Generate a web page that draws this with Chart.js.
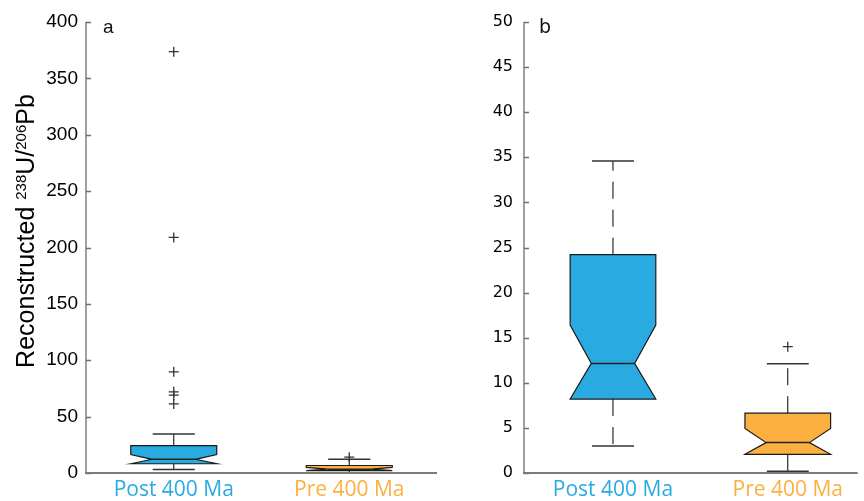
<!DOCTYPE html>
<html>
<head>
<meta charset="utf-8">
<script src="https://cdn.jsdelivr.net/npm/chart.js@4.4.1/dist/chart.umd.min.js"></script>
<style>
  html, body { margin: 0; padding: 0; background: #fff; }
  .panel { position: absolute; top: 0; height: 501px; }
  #wrapA { left: 0; width: 450px; }
  #wrapB { left: 450px; width: 414px; }
</style>
</head>
<body>
<div class="panel" id="wrapA"><canvas id="chartA"></canvas></div>
<div class="panel" id="wrapB"><canvas id="chartB"></canvas></div>
<script>
// categories and box statistics (same data in both panels, b is a zoom)
const categories = ['Post 400 Ma', 'Pre 400 Ma'];
const catColors = ['#29abe2', '#fbb040'];
const whiskerLow = [3.0, 0.2];
const q1 = [8.2, 2.07];
const notchLow = [8.2, 2.07];
const median = [12.15, 3.37];
const notchHigh = [16.4, 4.93];
const q3 = [24.2, 6.63];
const whiskerHigh = [34.6, 12.1];
const outliersPost = [373.7, 208.9, 89.7, 72, 69, 61.3];
const outliersPre = [14.0];

const ticksA = [0, 50, 100, 150, 200, 250, 300, 350, 400];
const ticksB = [0, 5, 10, 15, 20, 25, 30, 35, 40, 45, 50];

const BOX_HALF = 0.245;
const NOTCH_HALF = 0.124;
const CAP_HALF = 0.12;

// notched boxes + axes drawn with the chart's own scales
const boxPlugin = {
  id: 'boxes',
  beforeDatasetsDraw(chart, args, opts) {
    const ctx = chart.ctx;
    const xs = chart.scales.x, ys = chart.scales.y;
    const a = chart.chartArea;
    ctx.save();
    ctx.beginPath();
    ctx.rect(a.left, a.top - 1, a.right - a.left, a.bottom - a.top + 1);
    ctx.clip();
    categories.forEach((c, i) => {
      const xc = i + 1;
      const X = v => xs.getPixelForValue(v);
      const Y = v => ys.getPixelForValue(v);
      // whiskers (dashed)
      ctx.strokeStyle = '#000';
      ctx.lineWidth = 1;
      ctx.setLineDash([17, 11]);
      ctx.beginPath();
      ctx.moveTo(X(xc), Y(q3[i]));
      ctx.lineTo(X(xc), Y(whiskerHigh[i]));
      ctx.moveTo(X(xc), Y(q1[i]));
      ctx.lineTo(X(xc), Y(whiskerLow[i]));
      ctx.stroke();
      ctx.setLineDash([]);
      // caps
      ctx.strokeStyle = '#333';
      ctx.lineWidth = 1.5;
      ctx.beginPath();
      ctx.moveTo(X(xc - CAP_HALF), Y(whiskerHigh[i]));
      ctx.lineTo(X(xc + CAP_HALF), Y(whiskerHigh[i]));
      ctx.moveTo(X(xc - CAP_HALF), Y(whiskerLow[i]));
      ctx.lineTo(X(xc + CAP_HALF), Y(whiskerLow[i]));
      ctx.stroke();
      // notched box
      ctx.beginPath();
      ctx.moveTo(X(xc - BOX_HALF), Y(q1[i]));
      ctx.lineTo(X(xc - BOX_HALF), Y(notchLow[i]));
      ctx.lineTo(X(xc - NOTCH_HALF), Y(median[i]));
      ctx.lineTo(X(xc - BOX_HALF), Y(notchHigh[i]));
      ctx.lineTo(X(xc - BOX_HALF), Y(q3[i]));
      ctx.lineTo(X(xc + BOX_HALF), Y(q3[i]));
      ctx.lineTo(X(xc + BOX_HALF), Y(notchHigh[i]));
      ctx.lineTo(X(xc + NOTCH_HALF), Y(median[i]));
      ctx.lineTo(X(xc + BOX_HALF), Y(notchLow[i]));
      ctx.lineTo(X(xc + BOX_HALF), Y(q1[i]));
      ctx.closePath();
      ctx.fillStyle = catColors[i];
      ctx.fill();
      ctx.strokeStyle = '#1a1a1a';
      ctx.lineWidth = 1.2;
      ctx.stroke();
      // median
      ctx.beginPath();
      ctx.moveTo(X(xc - NOTCH_HALF), Y(median[i]));
      ctx.lineTo(X(xc + NOTCH_HALF), Y(median[i]));
      ctx.strokeStyle = '#222';
      ctx.lineWidth = 1.5;
      ctx.stroke();
    });
    ctx.restore();
  },
  afterDraw(chart, args, opts) {
    const ctx = chart.ctx;
    const a = chart.chartArea;
    const ys = chart.scales.y;
    ctx.save();
    // y axis line + inward ticks
    ctx.strokeStyle = '#6e6e6e';
    ctx.lineWidth = 1.3;
    ctx.beginPath();
    ctx.moveTo(a.left, a.top);
    ctx.lineTo(a.left, a.bottom);
    ys.ticks.forEach(t => {
      const y = Math.round(ys.getPixelForValue(t.value)) + 0.5;
      ctx.moveTo(a.left, y);
      ctx.lineTo(a.left + 5, y);
    });
    ctx.stroke();
    // x axis line
    ctx.strokeStyle = '#7a7a7a';
    ctx.lineWidth = 2.2;
    ctx.beginPath();
    ctx.moveTo(a.left - 1, a.bottom);
    ctx.lineTo(a.right, a.bottom);
    ctx.stroke();
    // panel letter
    ctx.fillStyle = '#111';
    ctx.font = opts.letterFont;
    ctx.textBaseline = 'alphabetic';
    ctx.fillText(opts.letter, a.left + opts.letterDx, a.top + 11);
    // y title with superscripts
    if (opts.title) {
      ctx.translate(opts.titleX, opts.titleY);
      ctx.rotate(-Math.PI / 2);
      const parts = [
        ['Reconstructed ', false], ['238', true], ['U/', false], ['206', true], ['Pb', false]
      ];
      const big = '25px "Liberation Sans", Arial, sans-serif';
      const small = '15px "Liberation Sans", Arial, sans-serif';
      let total = 0;
      parts.forEach(p => { ctx.font = p[1] ? small : big; total += ctx.measureText(p[0]).width; });
      let x = -total / 2;
      ctx.fillStyle = '#000';
      parts.forEach(p => {
        ctx.font = p[1] ? small : big;
        ctx.fillText(p[0], x, p[1] ? 1 : 9);
        x += ctx.measureText(p[0]).width;
      });
    }
    ctx.restore();
  }
};

function makeChart(id, cfg) {
  const outlierPoints = [
    ...outliersPost.map(v => ({ x: 1, y: v })),
    ...outliersPre.map(v => ({ x: 2, y: v }))
  ];
  return new Chart(document.getElementById(id), {
    type: 'scatter',
    data: {
      datasets: [{
        data: outlierPoints,
        pointStyle: 'cross',
        radius: 5,
        borderColor: '#333',
        borderWidth: 1.3,
        clip: 0
      }]
    },
    options: {
      responsive: true,
      maintainAspectRatio: false,
      animation: false,
      layout: { padding: cfg.padding },
      plugins: {
        legend: { display: false },
        tooltip: { enabled: false },
        boxes: cfg.plugin
      },
      scales: {
        x: {
          type: 'linear',
          min: cfg.xMin,
          max: cfg.xMax,
          grid: { display: false, drawTicks: false },
          border: { display: false },
          afterBuildTicks: s => { s.ticks = categories.map((c, i) => ({ value: i + 1 })); },
          afterFit: s => { s.height = 28; },
          ticks: {
            autoSkip: false,
            maxRotation: 0,
            padding: 4,
            callback: v => categories[v - 1],
            color: c => catColors[c.index],
            font: { family: '"Open Sans", sans-serif', size: 21 }
          }
        },
        y: {
          min: cfg.yTicks[0],
          max: cfg.yTicks[cfg.yTicks.length - 1],
          grid: { display: false, drawTicks: false },
          border: { display: false },
          afterBuildTicks: s => { s.ticks = cfg.yTicks.map(v => ({ value: v })); },
          afterFit: s => { s.width = cfg.yWidth; },
          ticks: {
            padding: cfg.tickPad,
            color: '#000',
            font: cfg.tickFont
          }
        }
      }
    },
    plugins: [boxPlugin]
  });
}

makeChart('chartA', {
  padding: { top: 22, right: 13, left: 0, bottom: 0 },
  xMin: 0.5, xMax: 2.5,
  yTicks: ticksA,
  yWidth: 86,
  tickPad: 8,
  tickFont: { family: '"Liberation Sans", Arial, sans-serif', size: 19 },
  plugin: { letter: 'a', letterDx: 17, letterFont: '19px "Liberation Sans", Arial, sans-serif', title: true, titleX: 25, titleY: 231 }
});

makeChart('chartB', {
  padding: { top: 22, right: 6, left: 0, bottom: 0 },
  xMin: 0.491, xMax: 2.4,
  yTicks: ticksB,
  yWidth: 74,
  tickPad: 11,
  tickFont: { family: '"DejaVu Sans", sans-serif', size: 16 },
  plugin: { letter: 'b', letterDx: 15, letterFont: '19px "DejaVu Sans", sans-serif', title: false }
});
</script>
</body>
</html>
